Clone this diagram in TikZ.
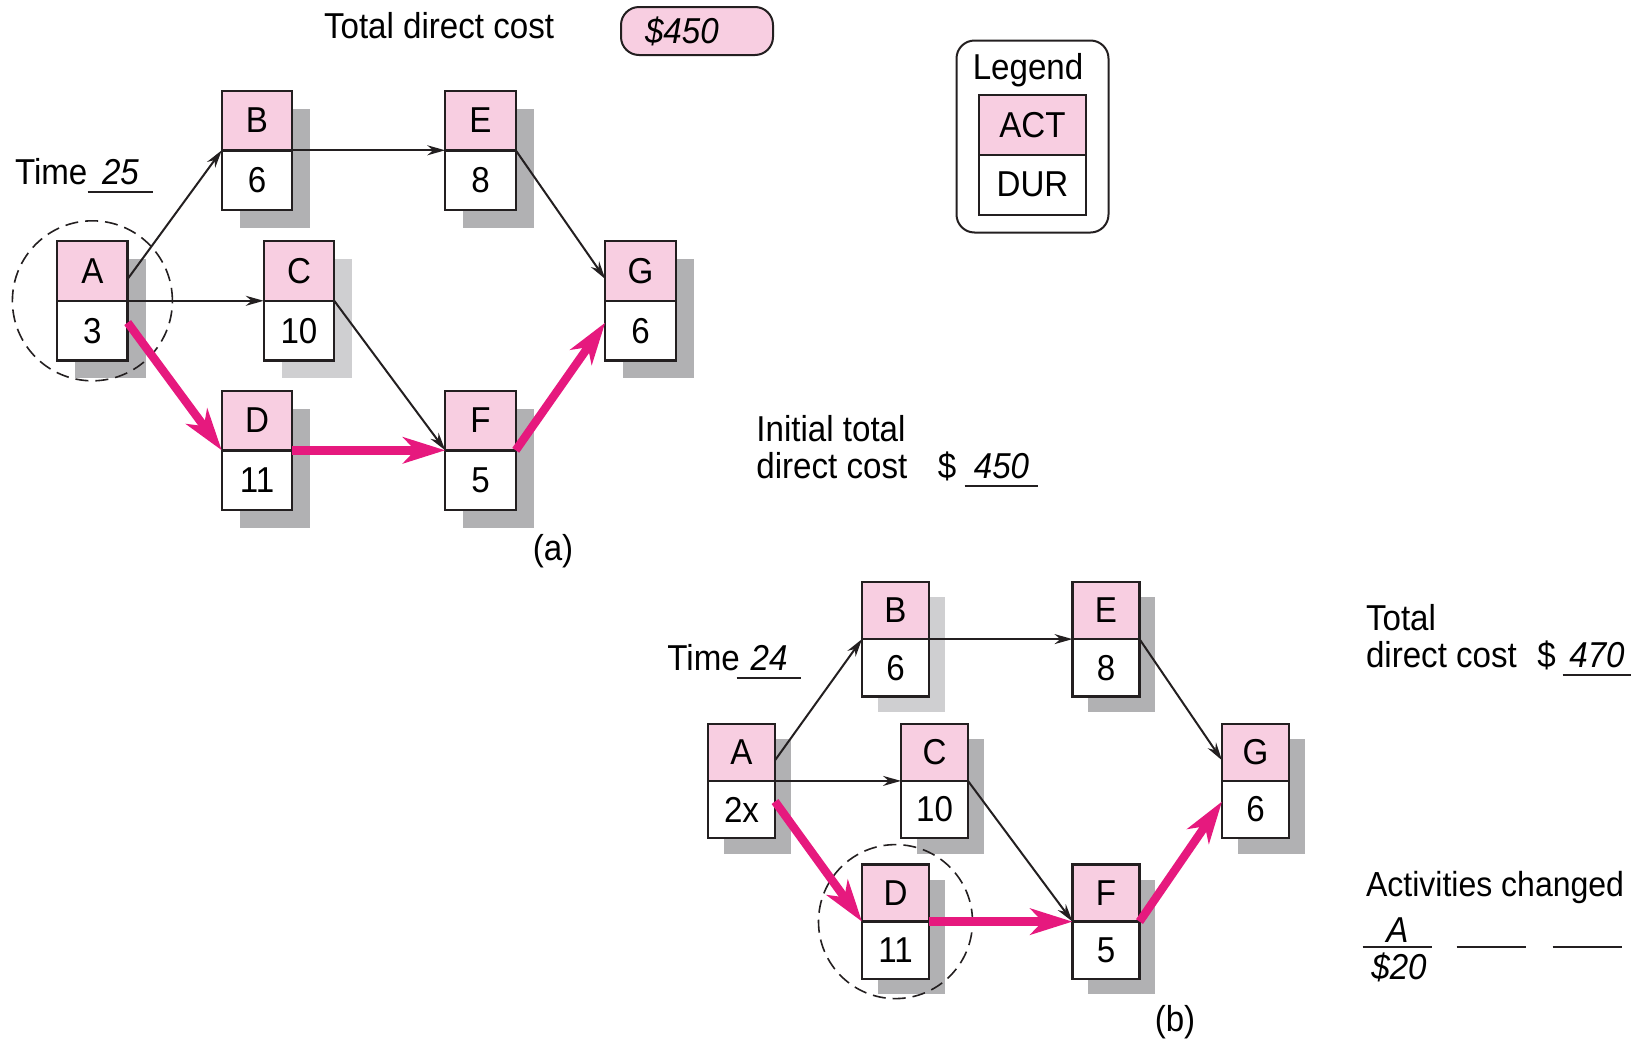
\documentclass[tikz,border=0pt]{standalone}
\usepackage{fontspec}
\setmainfont{Liberation Sans}[FakeStretch=0.92]
\usetikzlibrary{arrows.meta,positioning,shadows}

\definecolor{ink}{HTML}{231F20}
\definecolor{actpink}{HTML}{F8CEE1}
\definecolor{critpink}{HTML}{E6197E}
\definecolor{shadowgray}{HTML}{B1B1B3}
\definecolor{palegray}{HTML}{CFCFD1}

\tikzset{
  act/.style={draw=ink, line width=1.2pt, fill=actpink, inner sep=0pt, outer sep=0pt,
    font=\fontsize{18}{20}\selectfont},
  dur/.style={act, fill=white},
  sh/.style={drop shadow={shadow xshift=#1, shadow yshift=-#1, fill=shadowgray, opacity=1}},
  palesh/.style={drop shadow={shadow xshift=#1, shadow yshift=-#1, fill=palegray, opacity=1}},
  ring/.style={circle, draw=ink, line width=0.8pt, dash pattern=on 6.5pt off 3.5pt,
    minimum size=#1, inner sep=0pt},
  flow/.style={draw=ink, line width=1pt, -{Stealth[length=9pt, width=5pt]}},
  crit/.style={draw=critpink, line width=4.2pt, -{Stealth[length=21pt, width=13pt, inset=6pt]}},
  txt/.style={inner sep=0pt, anchor=base west, font=\fontsize{18}{20}\selectfont},
  slot/.style={inner sep=0pt, anchor=base, minimum width=#1, font=\fontsize{18}{20}\selectfont\itshape},
  uline/.style={draw=ink, line width=1pt},
  pill/.style={draw=ink, line width=1pt, fill=actpink, rounded corners=9pt, minimum height=24pt,
    text width=52pt, inner xsep=12pt, align=left, font=\fontsize{18}{20}\selectfont\itshape},
}

\begin{document}
\begin{tikzpicture}[x=0.5pt, y=-0.5pt]
  \useasboundingbox (0,0) rectangle (1637,1039);

  % cost on top
  \node[txt] (costlbl) at (323.6,38) {Total direct cost};
  \node[pill] (cost) at (697,31) {\$450};

  % legend
  \node[draw=ink, line width=1pt, rounded corners=9pt, minimum width=76pt, minimum height=96pt,
    inner sep=0pt] (legend) at (1032.5,136.5) {};
  \node[txt, anchor=base] (legtitle) at (1028,79) {Legend};
  \node[act, line width=1pt, minimum width=53.5pt, minimum height=30pt] (legact) at (1032.5,124.7) {ACT};
  \node[dur, line width=1pt, minimum width=53.5pt, minimum height=30pt, below=0pt of legact] (legdur) {DUR};

  % network (a)
  \begin{scope}[act/.append style={minimum width=35.25pt, minimum height=29.8pt}]
    \node[act, sh=9pt] (aA) at (92.4,271) {A};
    \node[dur, sh=9pt, below=0pt of aA] (aAd) {3};
    \node[act, sh=9pt] (aB) at (257,120.5) {B};
    \node[dur, sh=9pt, below=0pt of aB] (aBd) {6};
    \node[act, palesh=9pt] (aC) at (299,271) {C};
    \node[dur, palesh=9pt, below=0pt of aC] (aCd) {10};
    \node[act, sh=9pt] (aD) at (257,420.5) {D};
    \node[dur, sh=9pt, below=0pt of aD] (aDd) {11};
    \node[act, sh=9pt] (aE) at (480.5,120.5) {E};
    \node[dur, sh=9pt, below=0pt of aE] (aEd) {8};
    \node[act, sh=9pt] (aF) at (480.5,420.5) {F};
    \node[dur, sh=9pt, below=0pt of aF] (aFd) {5};
    \node[act, sh=9pt] (aG) at (640.5,271) {G};
    \node[dur, sh=9pt, below=0pt of aG] (aGd) {6};
  \end{scope}

  \node[ring=80pt] (ringA) at (aA.south) {};

  \draw[flow] ([yshift=-4pt]aA.east) -- (aB.south west);
  \draw[flow] (aA.south east) -- (aC.south west);
  \draw[flow] (aB.south east) -- (aE.south west);
  \draw[flow] (aC.south east) -- (aF.south west);
  \draw[flow] (aE.south east) -- ([yshift=-4pt]aG.west);
  \draw[crit] ([yshift=4pt]aAd.east) -- (aD.south west);
  \draw[crit] (aD.south east) -- (aF.south west);
  \draw[crit] (aF.south east) -- ([yshift=4pt]aGd.west);

  \node[txt] (timeA) at (14.6,184.3) {Time};
  \node[slot=32.5pt] (tA) at (120.5,184.3) {25};
  \node[txt] (initA) at (756,441) {Initial total};
  \node[txt] (initB) at (756,478) {direct cost};
  \node[txt] (dolA) at (937.5,478) {\$};
  \node[slot=36.5pt] (initv) at (1001.5,478) {450};
  \node[txt, anchor=center] (capA) at (553,551) {(a)};

  % network (b)
  \begin{scope}[act/.append style={minimum width=33.5pt, minimum height=28.6pt}]
    \node[act, sh=7.75pt] (bA) at (741.5,752.3) {A};
    \node[dur, sh=7.75pt, below=0pt of bA] (bAd) {2x};
    \node[act, palesh=7.75pt] (bB) at (895.5,610.5) {B};
    \node[dur, palesh=7.75pt, below=0pt of bB] (bBd) {6};
    \node[act, sh=7.75pt] (bC) at (934.5,752.3) {C};
    \node[dur, sh=7.75pt, below=0pt of bC] (bCd) {10};
    \node[act, sh=7.75pt] (bD) at (895.5,893) {D};
    \node[dur, sh=7.75pt, below=0pt of bD] (bDd) {11};
    \node[act, sh=7.75pt] (bE) at (1106,610.5) {E};
    \node[dur, sh=7.75pt, below=0pt of bE] (bEd) {8};
    \node[act, sh=7.75pt] (bF) at (1106,893) {F};
    \node[dur, sh=7.75pt, below=0pt of bF] (bFd) {5};
    \node[act, sh=7.75pt] (bG) at (1255.5,752.3) {G};
    \node[dur, sh=7.75pt, below=0pt of bG] (bGd) {6};
  \end{scope}

  \node[ring=77pt] (ringD) at (bD.south) {};

  \draw[flow] ([yshift=-4pt]bA.east) -- (bB.south west);
  \draw[flow] (bA.south east) -- (bC.south west);
  \draw[flow] (bB.south east) -- (bE.south west);
  \draw[flow] (bC.south east) -- (bF.south west);
  \draw[flow] (bE.south east) -- ([yshift=-4pt]bG.west);
  \draw[crit] ([yshift=4pt]bAd.east) -- (bD.south west);
  \draw[crit] (bD.south east) -- (bF.south west);
  \draw[crit] (bF.south east) -- ([yshift=4pt]bGd.west);

  \node[txt] (timeB) at (667,670) {Time};
  \node[slot=32pt] (tB) at (769,670) {24};
  \node[txt] (totA) at (1365.6,630) {Total};
  \node[txt] (totB) at (1365.6,667) {direct cost};
  \node[txt] (dolB) at (1537,667) {\$};
  \node[slot=34pt] (totv) at (1597,667) {470};
  \node[txt, anchor=center] (capB) at (1175,1022) {(b)};

  % activities changed
  \node[txt, font=\fontsize{17.4}{20}\selectfont] (chgl) at (1365.6,896) {Activities changed};
  \node[slot=34.5pt] (chg1) at (1397.5,942.7) {A};
  \node[slot=34.5pt] (chg2) at (1491.5,942.7) {};
  \node[slot=34.5pt] (chg3) at (1587.5,942.7) {};
  \node[slot=34.5pt] (chgc) at (1399,979) {\$20};

  \foreach \v in {tA,tB,initv,totv}
    \draw[uline] ([yshift=-4pt]\v.base west) -- ([yshift=-4pt]\v.base east);
  \foreach \v in {chg1,chg2,chg3}
    \draw[uline] ([yshift=-2pt]\v.base west) -- ([yshift=-2pt]\v.base east);
\end{tikzpicture}
\end{document}
